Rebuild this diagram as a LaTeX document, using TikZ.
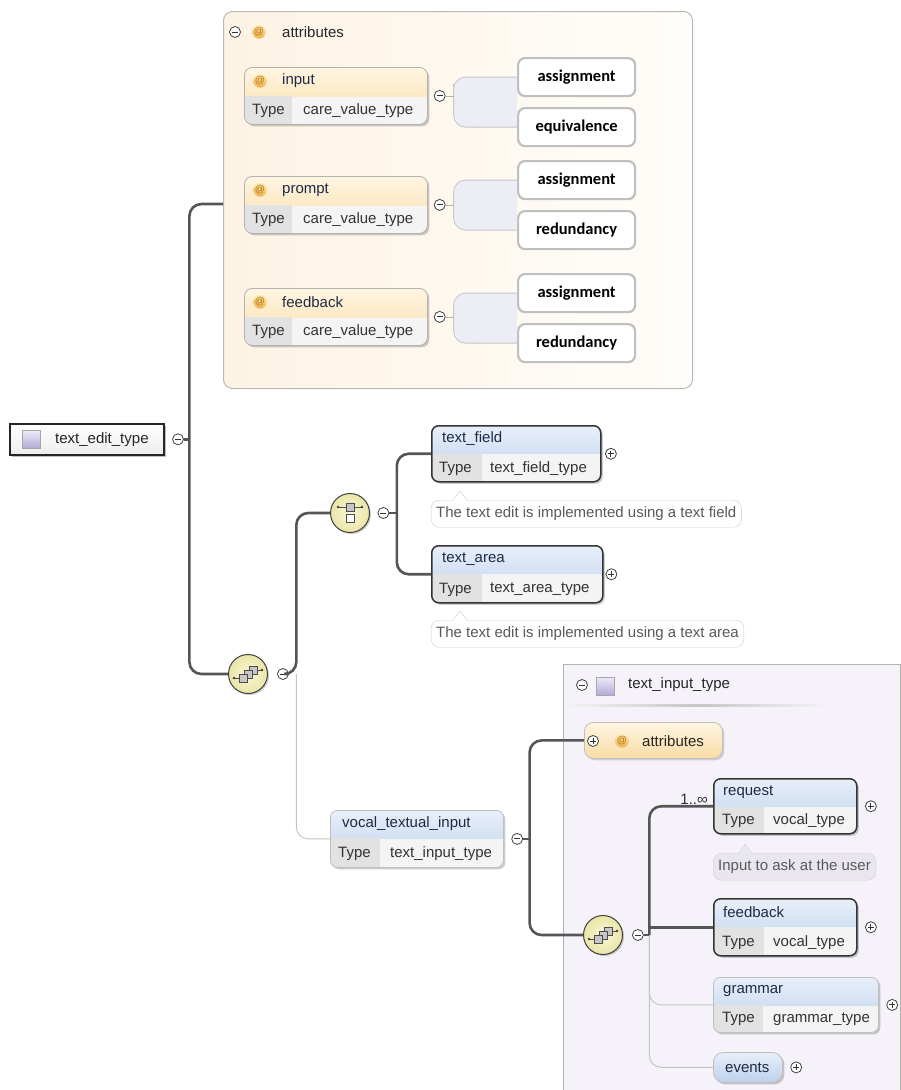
\documentclass[tikz,border=0pt]{standalone}
\usepackage{fontspec}
\setmainfont{Liberation Sans}
\newfontfamily\enumfont{Carlito}
\usetikzlibrary{positioning,shadows}

\definecolor{conndark}{HTML}{555555}
\definecolor{connlight}{HTML}{C4C4C4}
\definecolor{headtop}{HTML}{E8EFFA}
\definecolor{headbot}{HTML}{BCD0EC}
\definecolor{attrtop}{HTML}{FFF5E2}
\definecolor{attrbot}{HTML}{F9DCA6}
\definecolor{typecell}{HTML}{E2E2E2}
\definecolor{valcell}{HTML}{F4F4F4}
\definecolor{attrframeL}{HTML}{FDF3E4}
\definecolor{attrframeR}{HTML}{FFFDFA}
\definecolor{inputframe}{HTML}{F5F3F9}
\definecolor{bracketfill}{HTML}{EDEDF6}
\definecolor{icony}{HTML}{FAF8D8}
\definecolor{iconyd}{HTML}{EAE5A6}
\definecolor{notefill}{HTML}{E9E6EF}
\definecolor{titlecol}{HTML}{1E2B45}
\definecolor{typeicontop}{HTML}{EEEAF9}
\definecolor{typeiconbot}{HTML}{B3AAD6}
\definecolor{attop}{HTML}{FCE7A8}
\definecolor{atbot}{HTML}{F0B04A}
\definecolor{attext}{HTML}{B86E10}

\begin{document}
\begin{tikzpicture}[x=1pt, y=-1pt,
	every node/.style={inner sep=0pt, font=\fontsize{15}{17}\selectfont},
	conn/.style={draw=conndark, line width=2.6pt, rounded corners=12pt},
	optconn/.style={draw=connlight, line width=1pt, rounded corners=12pt},
	minus/.style={circle, draw=black!75, fill=white, line width=0.8pt, minimum size=11pt,
		path picture={\draw[black!80, line width=0.9pt] ([xshift=-3pt]path picture bounding box.center) -- ([xshift=3pt]path picture bounding box.center);}},
	plus/.style={circle, draw=black!75, fill=white, line width=0.8pt, minimum size=11pt,
		path picture={\draw[black!80, line width=0.9pt] ([xshift=-3pt]path picture bounding box.center) -- ([xshift=3pt]path picture bounding box.center) ([yshift=-3pt]path picture bounding box.center) -- ([yshift=3pt]path picture bounding box.center);}},
	elem/.style 2 args={anchor=north west, draw=black!80, line width=1.5pt, rounded corners=7pt,
		minimum width=#1, minimum height=#2, fill=valcell,
		drop shadow={shadow xshift=2pt, shadow yshift=-2pt, fill=black, opacity=0.2},
		path picture={
			\shade[sharp corners, top color=headtop, bottom color=headbot] (path picture bounding box.north west) rectangle ([yshift=-28pt]path picture bounding box.north east);
			\fill[sharp corners, typecell] ([yshift=-28pt]path picture bounding box.north west) rectangle ([xshift=50pt]path picture bounding box.south west);}},
	optelem/.style 2 args={elem={#1}{#2}, draw=gray!50, line width=0.8pt},
	attrbox/.style 2 args={elem={#1}{#2}, draw=gray!60, line width=0.8pt, rounded corners=8pt,
		path picture={
			\shade[sharp corners, top color=attrtop, bottom color=attrbot] (path picture bounding box.north west) rectangle ([yshift=-29pt]path picture bounding box.north east);
			\fill[sharp corners, typecell] ([yshift=-29pt]path picture bounding box.north west) rectangle ([xshift=48pt]path picture bounding box.south west);}},
	headonly/.style 2 args={anchor=north west, draw=gray!50, line width=0.8pt, rounded corners=10pt,
		minimum width=#1, minimum height=#2, top color=headtop, bottom color=headbot,
		drop shadow={shadow xshift=2pt, shadow yshift=-2pt, fill=black, opacity=0.2}},
	attrhead/.style={anchor=north west, draw=gray!50, line width=0.8pt, rounded corners=9pt,
		top color=attrtop, bottom color=attrbot,
		drop shadow={shadow xshift=2pt, shadow yshift=-2pt, fill=black, opacity=0.15}},
	attrframe/.style={anchor=north west, draw=gray!55, line width=1pt, rounded corners=9pt,
		left color=attrframeL, right color=attrframeR},
	inputbox/.style={anchor=north west, draw=gray!60, line width=1pt, fill=inputframe},
	rootbox/.style={anchor=north west, draw=black!85, line width=1.6pt, top color=white, bottom color=gray!14,
		drop shadow={shadow xshift=2pt, shadow yshift=-2pt, fill=black, opacity=0.25}},
	ttl/.style={anchor=west, text=titlecol},
	typ/.style={anchor=west, text=black!80},
	note/.style={anchor=north west, draw=gray!40, fill=white, rounded corners=8pt, inner xsep=5pt,
		minimum height=27pt, text=black!65},
	enumv/.style={anchor=north west, draw=gray!50, line width=2.2pt, fill=white, rounded corners=7pt,
		minimum width=117pt, minimum height=38pt, font=\enumfont\bfseries\fontsize{16.5}{18}\selectfont},
	brk/.style={draw=gray!45, line width=0.8pt, fill=bracketfill, rounded corners=12pt},
	atsign/.style={circle, minimum size=13pt, top color=attop, bottom color=atbot,
		text=attext, font=\fontsize{10}{10}\selectfont},
	typeicon/.style={draw=gray!70, line width=0.6pt, top color=typeicontop, bottom color=typeiconbot, minimum size=18pt},
	occurs/.style={anchor=south east, text=black!80},
	seqicon/.style={circle, draw=black!75, line width=1pt, inner color=icony, outer color=iconyd, minimum size=39pt,
		drop shadow={shadow xshift=1.5pt, shadow yshift=-1.5pt, fill=black, opacity=0.2},
		path picture={
			\coordinate (pc) at (path picture bounding box.center);
			\draw[black!70, line width=0.7pt] ([xshift=-14pt,yshift=-4pt]pc) -- ([xshift=-8pt,yshift=-4pt]pc) ([xshift=8pt,yshift=4pt]pc) -- ([xshift=14pt,yshift=4pt]pc);
			\fill[black!75] ([xshift=-14pt,yshift=-4pt]pc) circle[radius=1.4pt] ([xshift=14pt,yshift=4pt]pc) circle[radius=1.4pt];
			\draw[black!70, fill=gray!45, line width=0.6pt] ([xshift=1pt,yshift=0pt]pc) rectangle ++(8pt,8pt);
			\draw[black!70, fill=gray!45, line width=0.6pt] ([xshift=-4pt,yshift=-4pt]pc) rectangle ++(8pt,8pt);
			\draw[black!70, fill=gray!45, line width=0.6pt] ([xshift=-9pt,yshift=-8pt]pc) rectangle ++(8pt,8pt);}},
	choiceicon/.style={circle, draw=black!75, line width=1pt, inner color=icony, outer color=iconyd, minimum size=39pt,
		drop shadow={shadow xshift=1.5pt, shadow yshift=-1.5pt, fill=black, opacity=0.2},
		path picture={
			\coordinate (pc) at (path picture bounding box.center);
			\draw[black!70, line width=0.7pt] ([xshift=-12pt,yshift=6pt]pc) -- ([xshift=12pt,yshift=6pt]pc);
			\fill[black!75] ([xshift=-12pt,yshift=6pt]pc) circle[radius=1.4pt] ([xshift=12pt,yshift=6pt]pc) circle[radius=1.4pt];
			\draw[black!70, fill=gray!45, line width=0.6pt] ([xshift=-4pt,yshift=2pt]pc) rectangle ++(8pt,8pt);
			\draw[black!70, fill=white, line width=0.6pt] ([xshift=-4pt,yshift=-9pt]pc) rectangle ++(8pt,8pt);}}
	]
	\useasboundingbox (0,0) rectangle (901,1090);

	% attribute group of text_edit_type
	\node[attrframe, minimum width=469pt, minimum height=377pt] (attrs) at (223,11) {};
	\node[minus] (attrs-m) at (235,32) {};
	\node[atsign] (attrs-at) at (259,32) {@};
	\node[ttl, text=black!85] (attrs-t) at (282,32) {attributes};

	\node[attrbox={183pt}{57pt}] (inattr) at (244,67) {};
	\node[atsign] (inattr-at) at ([xshift=16pt,yshift=-14pt]inattr.north west) {@};
	\node[ttl] (inattr-t) at ([xshift=38pt,yshift=-14pt]inattr.north west) {input};
	\node[typ] (inattr-k) at ([xshift=8pt,yshift=14pt]inattr.south west) {Type};
	\node[typ] (inattr-v) at ([xshift=59pt,yshift=14pt]inattr.south west) {care\_value\_type};
	\node[minus, right=6pt of inattr] (inattr-m) {};
	\node[enumv] (inattr-a) at (517,57) {assignment};
	\node[enumv] (inattr-e) at (517,107) {equivalence};

	\node[attrbox={183pt}{57pt}] (prattr) at (244,176) {};
	\node[atsign] (prattr-at) at ([xshift=16pt,yshift=-14pt]prattr.north west) {@};
	\node[ttl] (prattr-t) at ([xshift=38pt,yshift=-14pt]prattr.north west) {prompt};
	\node[typ] (prattr-k) at ([xshift=8pt,yshift=14pt]prattr.south west) {Type};
	\node[typ] (prattr-v) at ([xshift=59pt,yshift=14pt]prattr.south west) {care\_value\_type};
	\node[minus, right=6pt of prattr] (prattr-m) {};
	\node[enumv] (prattr-a) at (517,160) {assignment};
	\node[enumv] (prattr-r) at (517,210) {redundancy};

	\node[attrbox={183pt}{57pt}] (fbattr) at (244,288) {};
	\node[atsign] (fbattr-at) at ([xshift=16pt,yshift=-14pt]fbattr.north west) {@};
	\node[ttl] (fbattr-t) at ([xshift=38pt,yshift=-14pt]fbattr.north west) {feedback};
	\node[typ] (fbattr-k) at ([xshift=8pt,yshift=14pt]fbattr.south west) {Type};
	\node[typ] (fbattr-v) at ([xshift=59pt,yshift=14pt]fbattr.south west) {care\_value\_type};
	\node[minus, right=6pt of fbattr] (fbattr-m) {};
	\node[enumv] (fbattr-a) at (517,273) {assignment};
	\node[enumv] (fbattr-r) at (517,323) {redundancy};

	\draw[brk] (inattr-a.west) -| ([xshift=8pt]inattr-m.east) |- (inattr-e.west);
	\draw[brk] (prattr-a.west) -| ([xshift=8pt]prattr-m.east) |- (prattr-r.west);
	\draw[brk] (fbattr-a.west) -| ([xshift=8pt]fbattr-m.east) |- (fbattr-r.west);
	\draw[gray!60, line width=0.8pt] (inattr-m.east) -- ([xshift=8pt]inattr-m.east);
	\draw[gray!60, line width=0.8pt] (prattr-m.east) -- ([xshift=8pt]prattr-m.east);
	\draw[gray!60, line width=0.8pt] (fbattr-m.east) -- ([xshift=8pt]fbattr-m.east);

	% root element
	\node[rootbox, minimum width=154pt, minimum height=31pt] (root) at (9,423) {};
	\node[typeicon] (root-ic) at ([xshift=22.5pt]root.west) {};
	\node[ttl, text=black!85] (root-t) at ([xshift=46pt]root.west) {text\_edit\_type};
	\node[minus, right=7.5pt of root] (root-m) {};

	\node[seqicon] (seq1) at (248,674) {};
	\node[minus, right=9pt of seq1] (seq1-m) {};
	\node[choiceicon] (choice) at (350,513) {};
	\node[minus, right=7.5pt of choice] (choice-m) {};

	% choice: text_field / text_area
	\node[elem={169pt}{56pt}] (textfield) at (431,425) {};
	\node[ttl] (textfield-t) at ([xshift=11pt,yshift=-14pt]textfield.north west) {text\_field};
	\node[typ] (textfield-k) at ([xshift=8pt,yshift=14pt]textfield.south west) {Type};
	\node[typ] (textfield-v) at ([xshift=59pt,yshift=14pt]textfield.south west) {text\_field\_type};
	\node[plus, right=3.5pt of textfield] (textfield-p) {};
	\node[note] (textfield-n) at (431,500) {The text edit is implemented using a text field};
	\fill[white] ([xshift=22pt,yshift=-1.5pt]textfield-n.north west) -- ([xshift=29pt,yshift=9pt]textfield-n.north west) -- ([xshift=36pt,yshift=-1.5pt]textfield-n.north west) -- cycle;
	\draw[gray!40] ([xshift=22pt]textfield-n.north west) -- ([xshift=29pt,yshift=9pt]textfield-n.north west) -- ([xshift=36pt]textfield-n.north west);

	\node[elem={171pt}{57pt}] (textarea) at (431,545) {};
	\node[ttl] (textarea-t) at ([xshift=11pt,yshift=-14pt]textarea.north west) {text\_area};
	\node[typ] (textarea-k) at ([xshift=8pt,yshift=14pt]textarea.south west) {Type};
	\node[typ] (textarea-v) at ([xshift=59pt,yshift=14pt]textarea.south west) {text\_area\_type};
	\node[plus, right=2pt of textarea] (textarea-p) {};
	\node[note] (textarea-n) at (431,620) {The text edit is implemented using a text area};
	\fill[white] ([xshift=22pt,yshift=-1.5pt]textarea-n.north west) -- ([xshift=29pt,yshift=9pt]textarea-n.north west) -- ([xshift=36pt,yshift=-1.5pt]textarea-n.north west) -- cycle;
	\draw[gray!40] ([xshift=22pt]textarea-n.north west) -- ([xshift=29pt,yshift=9pt]textarea-n.north west) -- ([xshift=36pt]textarea-n.north west);

	% vocal_textual_input and its type
	\node[optelem={173pt}{57pt}] (vocal) at (330,810) {};
	\node[ttl] (vocal-t) at ([xshift=12pt,yshift=-14pt]vocal.north west) {vocal\_textual\_input};
	\node[typ] (vocal-k) at ([xshift=8pt,yshift=14pt]vocal.south west) {Type};
	\node[typ] (vocal-v) at ([xshift=60pt,yshift=14pt]vocal.south west) {text\_input\_type};
	\node[minus, right=7.5pt of vocal] (vocal-m) {};

	\node[inputbox, minimum width=337pt, minimum height=440pt] (tiframe) at (563,664) {};
	\node[minus] (tiframe-m) at (582,685) {};
	\node[typeicon] (tiframe-ic) at (605.5,686) {};
	\node[ttl, text=black!85] (tiframe-t) at (628,685) {text\_input\_type};
	\shade[left color=gray!10, right color=inputframe, middle color=gray!45] (570,704) rectangle (827,706);

	\node[attrhead, minimum width=138pt, minimum height=36pt] (attrs2) at (584,722) {};
	\node[plus] (attrs2-p) at (593,741) {};
	\node[atsign] (attrs2-at) at (622,741) {@};
	\node[ttl, text=black!85] (attrs2-t) at (642,741) {attributes};

	\node[seqicon] (seq2) at (603,935) {};
	\node[minus, right=9pt of seq2] (seq2-m) {};

	\node[elem={143pt}{55pt}] (request) at (713,778) {};
	\node[ttl] (request-t) at ([xshift=10pt,yshift=-14pt]request.north west) {request};
	\node[typ] (request-k) at ([xshift=9pt,yshift=14pt]request.south west) {Type};
	\node[typ] (request-v) at ([xshift=60pt,yshift=14pt]request.south west) {vocal\_type};
	\node[plus, right=7.5pt of request] (request-p) {};
	\node[occurs] (request-o) at ([xshift=-5pt,yshift=2pt]request.west) {1..∞};
	\node[note, fill=notefill, draw=gray!35] (request-n) at (713,853) {Input to ask at the user};
	\fill[notefill] ([xshift=25pt,yshift=-1.5pt]request-n.north west) -- ([xshift=32pt,yshift=9pt]request-n.north west) -- ([xshift=39pt,yshift=-1.5pt]request-n.north west) -- cycle;
	\draw[gray!35] ([xshift=25pt]request-n.north west) -- ([xshift=32pt,yshift=9pt]request-n.north west) -- ([xshift=39pt]request-n.north west);

	\node[elem={143pt}{57pt}] (feedback) at (713,898) {};
	\node[ttl] (feedback-t) at ([xshift=10pt,yshift=-14pt]feedback.north west) {feedback};
	\node[typ] (feedback-k) at ([xshift=9pt,yshift=14pt]feedback.south west) {Type};
	\node[typ] (feedback-v) at ([xshift=60pt,yshift=14pt]feedback.south west) {vocal\_type};
	\node[plus, right=7.5pt of feedback] (feedback-p) {};

	\node[optelem={165pt}{55pt}] (grammar) at (713,977) {};
	\node[ttl] (grammar-t) at ([xshift=10pt,yshift=-14pt]grammar.north west) {grammar};
	\node[typ] (grammar-k) at ([xshift=9pt,yshift=14pt]grammar.south west) {Type};
	\node[typ] (grammar-v) at ([xshift=60pt,yshift=14pt]grammar.south west) {grammar\_type};
	\node[plus, right=7.5pt of grammar] (grammar-p) {};

	\node[headonly={69pt}{30pt}] (events) at (713,1052) {};
	\node[ttl] (events-t) at ([xshift=12pt]events.west) {events};
	\node[plus, right=7.5pt of events] (events-p) {};

	% connectors
	\coordinate (trunk) at ([xshift=5.5pt]root-m.east);
	\draw[conn] ([yshift=-4pt]attrs.west) -| (trunk) |- (seq1.west);
	\draw[conn] (root-m.east) -- (trunk);

	\coordinate (br1) at ([xshift=7.5pt]seq1-m.east);
	\draw[optconn] (br1) |- (vocal.west);
	\draw[conn] (seq1-m.east) -- (br1) |- (choice.west);

	\coordinate (br2) at ([xshift=7.5pt]choice-m.east);
	\draw[conn] (textfield.west) -| (br2) |- (textarea.west);
	\draw[conn] (choice-m.east) -- (br2);

	\coordinate (br3) at ([xshift=6.5pt]vocal-m.east);
	\draw[conn] (attrs2.west) -| (br3) |- (seq2.west);
	\draw[conn] (vocal-m.east) -- (br3);

	\coordinate (br4) at ([xshift=5.5pt]seq2-m.east);
	\draw[optconn] (br4) |- (grammar.west);
	\draw[optconn] (br4) |- (events.west);
	\draw[conn] (request.west) -| (br4);
	\draw[conn, sharp corners] (feedback.west) -- (feedback.west -| br4);
	\draw[conn] (seq2-m.east) -- (br4);
\end{tikzpicture}
\end{document}
